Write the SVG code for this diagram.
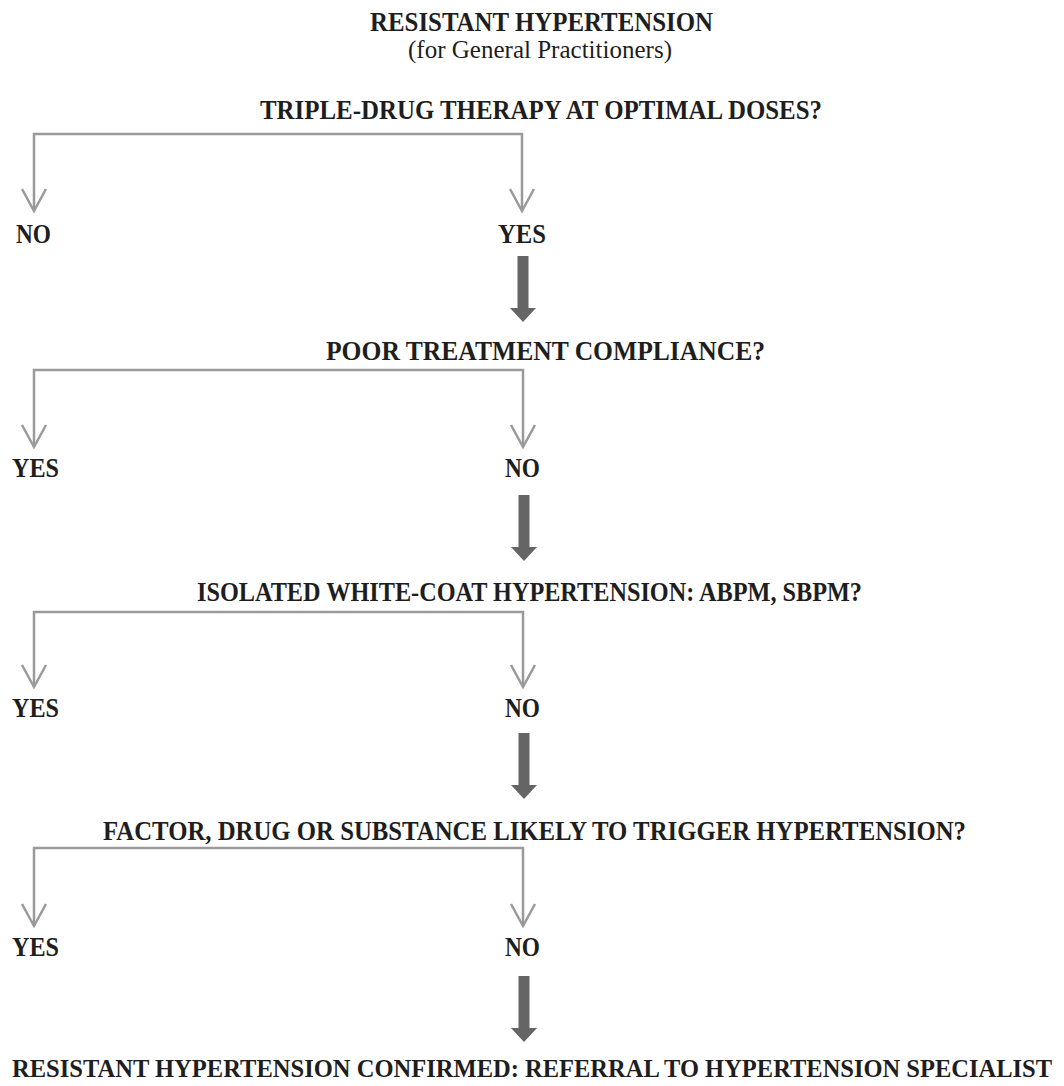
<svg xmlns="http://www.w3.org/2000/svg" width="1064" height="1086" viewBox="0 0 1064 1086">
<defs>
<style>
.t{font-family:"Liberation Serif","Times New Roman",serif;font-weight:bold;font-size:26.5px;fill:#1e1e1e}
.s{font-family:"Liberation Serif","Times New Roman",serif;font-size:25px;fill:#1e1e1e}
.br{fill:none;stroke:#9a9a9a;stroke-width:2.5}
.ah{fill:none;stroke:#9a9a9a;stroke-width:2.5;stroke-linejoin:miter}
.big{fill:#656565}
</style>
<symbol id="thick" overflow="visible"><polygon class="big" points="-5.5,0 5.5,0 5.5,52 13,52 0,66 -13,52 -5.5,52"/></symbol>
</defs>
<rect width="1064" height="1086" fill="#fff"/>
<g id="title">
<text class="t" x="370" y="31" textLength="343" lengthAdjust="spacingAndGlyphs">RESISTANT HYPERTENSION</text>
<text class="s" x="408" y="58" textLength="264" lengthAdjust="spacingAndGlyphs">(for General Practitioners)</text>
</g>
<g id="q1"><text class="t" x="260" y="119" textLength="562" lengthAdjust="spacingAndGlyphs">TRIPLE-DRUG THERAPY AT OPTIMAL DOSES?</text></g>
<g id="q1-no"><text class="t" x="16" y="243" textLength="35" lengthAdjust="spacingAndGlyphs">NO</text></g>
<g id="q1-yes"><text class="t" x="498" y="243" textLength="48" lengthAdjust="spacingAndGlyphs">YES</text></g>
<g id="q2"><text class="t" x="326" y="360" textLength="439" lengthAdjust="spacingAndGlyphs">POOR TREATMENT COMPLIANCE?</text></g>
<g id="q2-yes"><text class="t" x="12" y="477" textLength="47" lengthAdjust="spacingAndGlyphs">YES</text></g>
<g id="q2-no"><text class="t" x="505" y="477" textLength="35" lengthAdjust="spacingAndGlyphs">NO</text></g>
<g id="q3"><text class="t" x="197" y="601" textLength="665" lengthAdjust="spacingAndGlyphs">ISOLATED WHITE-COAT HYPERTENSION: ABPM, SBPM?</text></g>
<g id="q3-yes"><text class="t" x="12" y="717" textLength="47" lengthAdjust="spacingAndGlyphs">YES</text></g>
<g id="q3-no"><text class="t" x="505" y="717" textLength="35" lengthAdjust="spacingAndGlyphs">NO</text></g>
<g id="q4"><text class="t" x="103" y="840" textLength="863" lengthAdjust="spacingAndGlyphs">FACTOR, DRUG OR SUBSTANCE LIKELY TO TRIGGER HYPERTENSION?</text></g>
<g id="q4-yes"><text class="t" x="12" y="956" textLength="47" lengthAdjust="spacingAndGlyphs">YES</text></g>
<g id="q4-no"><text class="t" x="505" y="956" textLength="35" lengthAdjust="spacingAndGlyphs">NO</text></g>
<g id="result">
<text class="t" x="12" y="1077" textLength="507" lengthAdjust="spacingAndGlyphs" style="font-size:25px">RESISTANT HYPERTENSION CONFIRMED:</text>
<text class="t" x="525" y="1077" textLength="527" lengthAdjust="spacingAndGlyphs" style="font-size:25px">REFERRAL TO HYPERTENSION SPECIALIST</text>
</g>
<g id="connectors">
<path class="br" d="M34,211 V134 H522 V211"/>
<path class="ah" d="M22,189 L34,211 L46,189 M510,189 L522,211 L534,189"/>
<use href="#thick" x="523" y="256"/>
<path class="br" d="M34,447 V370 H523 V447"/>
<path class="ah" d="M22,425 L34,447 L46,425 M511,425 L523,447 L535,425"/>
<use href="#thick" x="524" y="495"/>
<path class="br" d="M34,687 V612 H523 V687"/>
<path class="ah" d="M22,665 L34,687 L46,665 M511,665 L523,687 L535,665"/>
<use href="#thick" x="524" y="733"/>
<path class="br" d="M34,926 V848 H523 V926"/>
<path class="ah" d="M22,904 L34,926 L46,904 M511,904 L523,926 L535,904"/>
<use href="#thick" x="524" y="976"/>
</g>
</svg>
